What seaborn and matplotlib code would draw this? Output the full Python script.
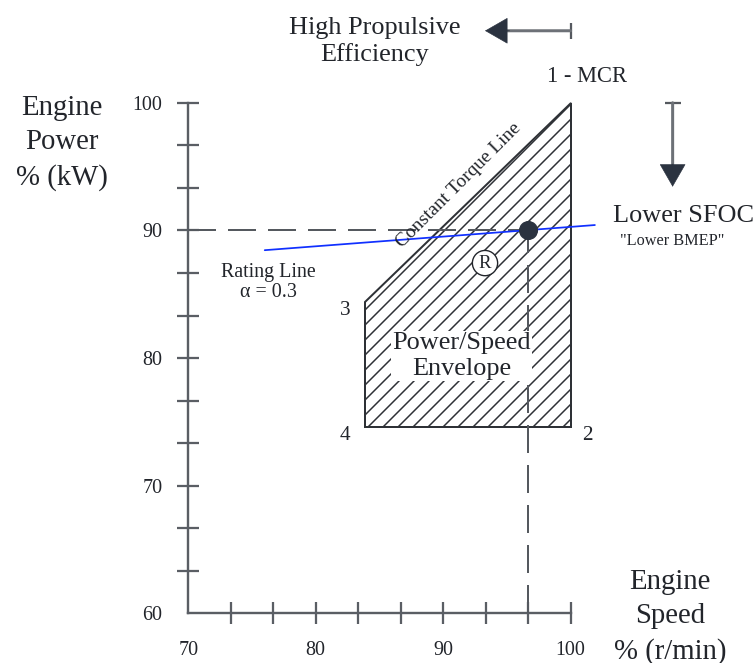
import matplotlib
matplotlib.use("Agg")
import matplotlib.pyplot as plt
import seaborn as sns
import pandas as pd

# Power/speed envelope corners (engine speed %, engine power %): 1 - MCR, 2, 4, 3
envelope_speed = [100.0, 100.0, 83.9, 83.9]
envelope_power = [100.0, 74.6, 74.6, 84.4]

# Rating line, alpha = 0.3
rating_speed = [76.0, 101.9]
rating_power = [88.45, 90.42]

# Selected rating point R
r_speed = [96.67]
r_power = [90.0]

# Axis ticks
x_major = [70, 80, 90, 100]
x_minor = [73.33, 76.67, 83.33, 86.67, 93.33, 96.67]
y_major = [60, 70, 80, 90, 100]
y_minor = [63.33, 66.67, 73.33, 76.67, 83.33, 86.67, 93.33, 96.67]

sns.set_theme(style="white")
plt.rcParams["font.family"] = ["Liberation Serif", "DejaVu Serif"]
plt.rcParams["hatch.linewidth"] = 1.2

INK = "#22252b"
AXIS_GREY = "#5a5e64"
DASH_GREY = "#55595f"

fig = plt.figure(figsize=(8.4, 7.3667), dpi=90)
ax = fig.add_axes([0, 0, 1, 1])
ax.set_xlim(55.23, 114.54)
ax.set_ylim(56.11, 108.05)
ax.set_facecolor("white")

# Axes drawn as an open L from the origin (70, 60)
for side in ("top", "right"):
    ax.spines[side].set_visible(False)
ax.spines["left"].set_position(("data", 70))
ax.spines["left"].set_bounds(60, 100)
ax.spines["bottom"].set_position(("data", 60))
ax.spines["bottom"].set_bounds(70, 100)
for side in ("left", "bottom"):
    ax.spines[side].set_color(AXIS_GREY)
    ax.spines[side].set_linewidth(1.9)
    ax.spines[side].set_zorder(1)

ax.set_xticks(x_major)
ax.set_xticks(x_minor, minor=True)
ax.set_yticks(y_major)
ax.set_yticks(y_minor, minor=True)
ax.tick_params(which="both", direction="inout", length=17.6, width=1.8,
               color=AXIS_GREY, bottom=True, left=True)
ax.tick_params(axis="x", which="major", pad=13, labelsize=16, labelcolor=INK)
ax.tick_params(axis="y", which="major", pad=12, labelsize=16, labelcolor=INK)
ax.xaxis.get_major_ticks()[0].tick1line.set_visible(False)
ax.yaxis.get_major_ticks()[0].tick1line.set_visible(False)
ax.grid(False)

# Hatched power/speed envelope
ax.fill(envelope_speed, envelope_power, facecolor="none", edgecolor="#2e3136",
        hatch="//", linewidth=1.6, zorder=2)

# Dashed guides through the rating point
dash = (0, (14, 6))
ax.plot([70, r_speed[0]], [r_power[0], r_power[0]], color=DASH_GREY, lw=1.6,
        ls=dash, zorder=3)
ax.plot([r_speed[0], r_speed[0]], [60, r_power[0]], color=DASH_GREY, lw=1.6,
        ls=dash, zorder=3)

# Rating line and rating point
rating = pd.DataFrame({"speed": rating_speed, "power": rating_power})
sns.lineplot(data=rating, x="speed", y="power", ax=ax, color="#1030ff",
             lw=1.4, zorder=4, clip_on=False)
point = pd.DataFrame({"speed": r_speed, "power": r_power})
sns.scatterplot(data=point, x="speed", y="power", ax=ax, s=200, color="#2b3340",
                edgecolor="#2b3340", zorder=5)
ax.set_xlabel("")
ax.set_ylabel("")

# Text labels
ax.text(60.09, 96.85, "Engine\nPower\n% (kW)", ha="center", va="center",
        fontsize=23, color=INK, linespacing=1.4)
ax.text(107.79, 59.72, "Engine\nSpeed\n% (r/min)", ha="center", va="center",
        fontsize=23, color=INK, linespacing=1.4)
ax.text(84.65, 104.8, "High Propulsive\nEfficiency", ha="center", va="center",
        fontsize=21, color=INK, linespacing=1.18)
ax.text(101.27, 102.03, "1 - MCR", ha="center", va="center", fontsize=18, color=INK)
ax.text(108.87, 91.13, "Lower SFOC", ha="center", va="center", fontsize=21, color=INK)
ax.text(108.0, 89.17, "\"Lower BMEP\"", ha="center", va="center", fontsize=13,
        color=INK)
ax.text(76.3, 85.92, "Rating Line\nα = 0.3", ha="center", va="center",
        fontsize=16, color=INK, linespacing=1.1)
ax.text(91.2, 93.5, "Constant Torque Line", ha="center", va="center",
        rotation=45, rotation_mode="anchor", fontsize=15.5, color=INK, zorder=6)
ax.text(93.28, 87.44, "R", ha="center", va="center", fontsize=15, color=INK,
        bbox=dict(boxstyle="circle,pad=0.22", fc="white", ec=INK, lw=1.1),
        zorder=6)
ax.text(91.47, 80.16, "Power/Speed\nEnvelope", ha="center", va="center",
        fontsize=21, color=INK, linespacing=1.22, zorder=6,
        bbox=dict(boxstyle="square,pad=0.05", fc="white", ec="none"))
ax.text(82.29, 83.76, "3", ha="center", va="center", fontsize=17, color=INK)
ax.text(82.29, 73.97, "4", ha="center", va="center", fontsize=17, color=INK)
ax.text(101.35, 73.97, "2", ha="center", va="center", fontsize=17, color=INK)

# Arrow towards higher propulsive efficiency (lower speed)
ax.annotate("", xy=(95.0, 105.64), xytext=(100.0, 105.64), annotation_clip=False,
            arrowprops=dict(arrowstyle="-", color="#6d7177", lw=2.4,
                            shrinkA=0, shrinkB=0))
ax.annotate("", xy=(93.28, 105.64), xytext=(95.2, 105.64), annotation_clip=False,
            arrowprops=dict(arrowstyle="-|>,head_length=0.4,head_width=0.23",
                            mutation_scale=43, color="#2b3340", lw=0.5,
                            shrinkA=0, shrinkB=0))
ax.plot([100.0], [105.64], marker="|", ms=13.3, mew=1.8, color="#55595f",
        clip_on=False)

# Arrow towards lower SFOC (lower power)
ax.annotate("", xy=(108.0, 95.0), xytext=(108.0, 100.0), annotation_clip=False,
            arrowprops=dict(arrowstyle="-", color="#6d7177", lw=2.4,
                            shrinkA=0, shrinkB=0))
ax.annotate("", xy=(108.0, 93.42), xytext=(108.0, 95.2), annotation_clip=False,
            arrowprops=dict(arrowstyle="-|>,head_length=0.4,head_width=0.23",
                            mutation_scale=43, color="#2b3340", lw=0.5,
                            shrinkA=0, shrinkB=0))
ax.plot([108.0], [100.0], marker="_", ms=13, mew=1.8, color="#55595f",
        clip_on=False)

fig.savefig("out.png", dpi=90)
